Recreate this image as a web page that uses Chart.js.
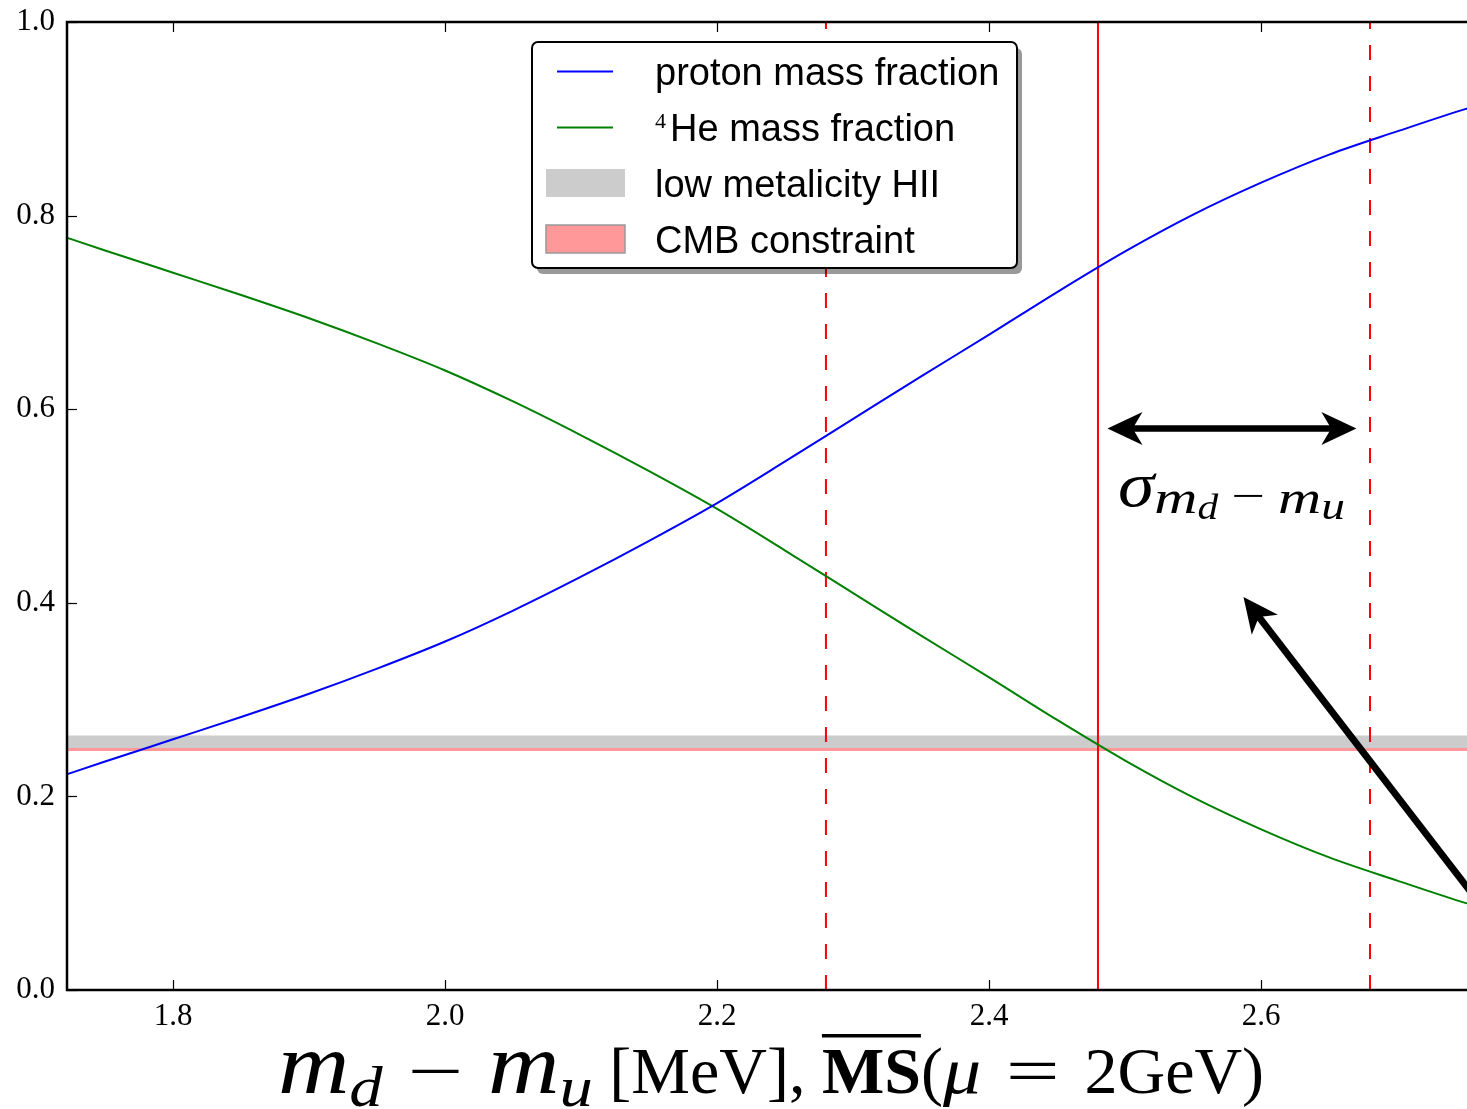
<!DOCTYPE html>
<html>
<head>
<meta charset="utf-8">
<title>Proton and 4He mass fractions vs m_d - m_u</title>
<script src="https://cdn.jsdelivr.net/npm/chart.js@4.4.1/dist/chart.umd.min.js"></script>
<style>
  html, body { margin: 0; padding: 0; background: #fff; overflow: hidden; }
  #wrap { width: 1467px; height: 1109px; overflow: hidden; }
  canvas { display: block; }
</style>
</head>
<body>
<div id="wrap"><canvas id="bbn" width="1506" height="1109"></canvas></div>
<script>
// m_d - m_u grid [MeV]
const mdmu = [1.72, 1.75, 1.80, 1.85, 1.90, 1.95, 2.00, 2.05, 2.10, 2.15, 2.20, 2.25,
              2.30, 2.35, 2.40, 2.45, 2.50, 2.55, 2.60, 2.65, 2.70, 2.75, 2.76];
// mass fractions after BBN
const protonFrac = [0.222, 0.236, 0.259, 0.282, 0.306, 0.332, 0.360, 0.392, 0.427, 0.464, 0.503, 0.546,
                    0.590, 0.634, 0.677, 0.721, 0.763, 0.801, 0.834, 0.863, 0.887, 0.910, 0.914];
const heliumFrac = [0.778, 0.764, 0.741, 0.718, 0.694, 0.668, 0.640, 0.608, 0.573, 0.536, 0.497, 0.454,
                    0.410, 0.366, 0.323, 0.279, 0.237, 0.199, 0.166, 0.137, 0.113, 0.090, 0.086];

const xTicks = [1.8, 2.0, 2.2, 2.4, 2.6];
const yTicks = [0.0, 0.2, 0.4, 0.6, 0.8, 1.0];
const seriesNames = ['proton mass fraction', '\u2074He mass fraction', 'low metalicity HII', 'CMB constraint'];

// observed Y_p bands
const hiiBand = [0.250, 0.263];
const cmbBand = [0.247, 0.250];

// lattice value of m_d - m_u and its 1 sigma
const mdmuCentral = 2.48;
const mdmuSigma = 0.20;

// annotation arrows (data coordinates)
const sigmaArrow = { from: [2.487, 0.580], to: [2.670, 0.580] };
const pointerArrow = { from: [2.780, 0.054], to: [2.587, 0.406] };

const xMin = 1.722, xMax = 2.78;

const toPts = (xs, ys) => xs.map((x, i) => ({ x: x, y: ys[i] }));
const hLine = y => [{ x: xMin, y: y }, { x: xMax, y: y }];
const vLine = x => [{ x: x, y: 0 }, { x: x, y: 1 }];

const serif = '"Liberation Serif", "DejaVu Serif", serif';
const sans = '"Liberation Sans", Arial, sans-serif';
const it = s => 'italic ' + s + 'px ' + serif;
const up = s => s + 'px ' + serif;
const bf = s => 'bold ' + s + 'px ' + serif;

// frame + inward tick marks
const framePlugin = {
  id: 'frame',
  afterDatasetsDraw(chart) {
    const ctx = chart.ctx, a = chart.chartArea;
    const xs = chart.scales.x, ys = chart.scales.y;
    ctx.save();
    ctx.strokeStyle = '#000';
    ctx.lineWidth = 1.2;
    xs.ticks.forEach(t => {
      const px = Math.round(xs.getPixelForValue(t.value)) + 0.5;
      ctx.beginPath();
      ctx.moveTo(px, a.bottom); ctx.lineTo(px, a.bottom - 10);
      ctx.moveTo(px, a.top); ctx.lineTo(px, a.top + 10);
      ctx.stroke();
    });
    ys.ticks.forEach(t => {
      const py = Math.round(ys.getPixelForValue(t.value)) + 0.5;
      ctx.beginPath();
      ctx.moveTo(a.left, py); ctx.lineTo(a.left + 10, py);
      ctx.stroke();
    });
    ctx.lineWidth = 2.5;
    ctx.strokeRect(a.left, a.top, a.right - a.left, a.bottom - a.top);
    ctx.restore();
  }
};

function arrowHead(ctx, tx, ty, ux, uy, len, half) {
  const bx = tx - ux * len, by = ty - uy * len;
  const nx = -uy, ny = ux;
  ctx.beginPath();
  ctx.moveTo(tx, ty);
  ctx.lineTo(bx + nx * half, by + ny * half);
  ctx.lineTo(tx - ux * len * 0.72, ty - uy * len * 0.72);
  ctx.lineTo(bx - nx * half, by - ny * half);
  ctx.closePath();
  ctx.fill();
}

function drawArrow(ctx, x0, y0, x1, y1, width, both) {
  const d = Math.hypot(x1 - x0, y1 - y0);
  const ux = (x1 - x0) / d, uy = (y1 - y0) / d;
  const len = 35, half = 16.5, cut = len * 0.7;
  ctx.lineWidth = width;
  ctx.beginPath();
  ctx.moveTo(both ? x0 + ux * cut : x0, both ? y0 + uy * cut : y0);
  ctx.lineTo(x1 - ux * cut, y1 - uy * cut);
  ctx.stroke();
  arrowHead(ctx, x1, y1, ux, uy, len, half);
  if (both) arrowHead(ctx, x0, y0, -ux, -uy, len, half);
}

// draw a run of text pieces: [text, font, baseline shift, horizontal stretch]
function drawRuns(ctx, runs, x, y, align) {
  const widthOf = r => { ctx.font = r[1]; return ctx.measureText(r[0]).width * (r[3] || 1); };
  const total = runs.reduce((s, r) => s + widthOf(r), 0);
  let cx = align === 'center' ? x - total / 2 : x;
  const spans = [];
  runs.forEach(r => {
    const rw = widthOf(r);
    ctx.save();
    ctx.translate(cx, y + (r[2] || 0));
    ctx.scale(r[3] || 1, 1);
    ctx.font = r[1];
    ctx.fillText(r[0], 0, 0);
    ctx.restore();
    spans.push([cx, rw]);
    cx += rw;
  });
  return spans;
}

const annotationPlugin = {
  id: 'annotations',
  afterDatasetsDraw(chart) {
    const ctx = chart.ctx, xs = chart.scales.x, ys = chart.scales.y;
    const P = p => [xs.getPixelForValue(p[0]), ys.getPixelForValue(p[1])];
    ctx.save();
    ctx.fillStyle = '#000';
    ctx.strokeStyle = '#000';
    let a = P(sigmaArrow.from), b = P(sigmaArrow.to);
    drawArrow(ctx, a[0], a[1], b[0], b[1], 6.5, true);
    a = P(pointerArrow.from); b = P(pointerArrow.to);
    drawArrow(ctx, a[0], a[1], b[0], b[1], 7, false);

    // sigma_{m_d - m_u}
    ctx.textBaseline = 'alphabetic';
    drawRuns(ctx, [
      ['\u03c3', it(64), 0, 1.15],
      ['m', it(46), 7, 1.3],
      ['d', it(36), 13, 1.15],
      [' ', up(40), 0, 1.3],
      ['\u2212', up(40), 3, 1.5],
      [' ', up(40), 0, 1.3],
      ['m', it(46), 7, 1.3],
      ['u', it(38), 13, 1.25]
    ], 1118, 506, 'left');
    ctx.restore();
  }
};

const legendPlugin = {
  id: 'boxLegend',
  afterDraw(chart) {
    const ctx = chart.ctx;
    const box = { x: 532, y: 42, w: 485, h: 226, r: 6 };
    const rows = [85, 141, 197, 253];
    ctx.save();
    ctx.fillStyle = 'rgba(0,0,0,0.4)';
    ctx.beginPath();
    ctx.roundRect(box.x + 5, box.y + 6, box.w, box.h, box.r);
    ctx.fill();
    ctx.fillStyle = '#fff';
    ctx.strokeStyle = '#000';
    ctx.lineWidth = 2;
    ctx.beginPath();
    ctx.roundRect(box.x, box.y, box.w, box.h, box.r);
    ctx.fill();
    ctx.stroke();

    const ds = chart.data.datasets.filter(d => seriesNames.includes(d.label));
    ds.forEach((d, i) => {
      const by = rows[i];
      if (d.fill) {
        ctx.fillStyle = d.backgroundColor;
        ctx.fillRect(546, by - 28, 79, 28);
        if (d.legendEdge) {
          ctx.strokeStyle = d.legendEdge;
          ctx.lineWidth = 1.5;
          ctx.strokeRect(546, by - 28, 79, 28);
        }
      } else {
        ctx.strokeStyle = d.borderColor;
        ctx.lineWidth = 2;
        ctx.beginPath();
        ctx.moveTo(557, by - 13.5);
        ctx.lineTo(613, by - 13.5);
        ctx.stroke();
      }
      ctx.fillStyle = '#000';
      ctx.textBaseline = 'alphabetic';
      let label = d.label, tx = 655;
      if (label.charAt(0) === '\u2074') {
        ctx.font = '22px ' + serif;
        ctx.fillText('4', tx, by - 13.5);
        tx += ctx.measureText('4').width + 4;
        label = label.slice(1);
      }
      ctx.font = '38px ' + sans;
      ctx.fillText(label, tx, by);
    });
    ctx.restore();

    // x axis title: m_d - m_u [MeV], MS-bar(mu = 2GeV)
    ctx.save();
    ctx.fillStyle = '#000';
    ctx.textBaseline = 'alphabetic';
    const spans = drawRuns(ctx, [
      ['m', it(86), 0, 1.15],
      ['d', it(58), 13, 1.15],
      [' ', up(66), 0, 1.5],
      ['\u2212', up(66), 0, 1.5],
      [' ', up(66), 0, 1.5],
      ['m', it(86), 0, 1.15],
      ['u', it(58), 13, 1.15],
      [' [MeV], ', up(66), 0],
      ['MS', bf(66), 0],
      ['(', up(66), 0],
      ['\u03bc', it(66), 0, 1.15],
      [' ', up(66), 0, 1.5],
      ['=', up(66), 0, 1.45],
      [' ', up(66), 0, 1.5],
      ['2GeV', up(66), 0],
      [')', up(66), 0]
    ], 771, 1093, 'center');
    const ms = spans[8];
    ctx.fillRect(ms[0], 1034, ms[1], 3.5);
    ctx.restore();
  }
};

Chart.defaults.font.family = serif;
Chart.defaults.color = '#000';

new Chart(document.getElementById('bbn'), {
  type: 'line',
  data: {
    datasets: [
      { label: seriesNames[0], data: toPts(mdmu, protonFrac), borderColor: '#0000ff', borderWidth: 2,
        pointRadius: 0, cubicInterpolationMode: 'monotone', fill: false, order: 1 },
      { label: seriesNames[1], data: toPts(mdmu, heliumFrac), borderColor: '#008000', borderWidth: 2,
        pointRadius: 0, cubicInterpolationMode: 'monotone', fill: false, order: 1 },
      { label: 'central', data: vLine(mdmuCentral), borderColor: '#ff0000', borderWidth: 2,
        pointRadius: 0, fill: false, order: 2 },
      { label: 'lower', data: vLine(mdmuCentral - mdmuSigma), borderColor: '#ff0000', borderWidth: 2,
        borderDash: [15, 16], pointRadius: 0, fill: false, order: 2 },
      { label: 'upper', data: vLine(mdmuCentral + mdmuSigma), borderColor: '#ff0000', borderWidth: 2,
        borderDash: [15, 16], pointRadius: 0, fill: false, order: 2 },
      { label: seriesNames[2], data: hLine(hiiBand[1]), fill: { value: hiiBand[0] },
        backgroundColor: '#cccccc', borderColor: 'rgba(0,0,0,0)', borderWidth: 0, pointRadius: 0, order: 3 },
      { label: seriesNames[3], data: hLine(cmbBand[1]), fill: { value: cmbBand[0] },
        backgroundColor: '#ff9999', borderColor: 'rgba(0,0,0,0)', borderWidth: 0, pointRadius: 0,
        legendEdge: '#999999', order: 3 }
    ]
  },
  options: {
    responsive: false,
    animation: false,
    layout: { padding: { top: 22, right: 0, left: 0, bottom: 0 } },
    plugins: { legend: { display: false }, tooltip: { enabled: false } },
    scales: {
      x: {
        type: 'linear', min: xMin, max: xMax,
        grid: { display: false, drawTicks: false }, border: { display: false },
        afterBuildTicks: s => { s.ticks = xTicks.map(v => ({ value: v })); },
        afterFit: s => { s.height = 119; s.paddingLeft = 0; s.paddingRight = 0; },
        ticks: { font: { size: 31 }, color: '#000', padding: 8, maxRotation: 0, autoSkip: false,
                 callback: v => v.toFixed(1) }
      },
      y: {
        type: 'linear', min: 0, max: 1,
        grid: { display: false, drawTicks: false }, border: { display: false },
        afterBuildTicks: s => { s.ticks = yTicks.map(v => ({ value: v })); },
        afterFit: s => { s.width = 67; s.paddingTop = 0; s.paddingBottom = 0; },
        ticks: { font: { size: 31 }, color: '#000', padding: 12, autoSkip: false,
                 callback: v => v.toFixed(1) }
      }
    }
  },
  plugins: [framePlugin, annotationPlugin, legendPlugin]
});
</script>
</body>
</html>
